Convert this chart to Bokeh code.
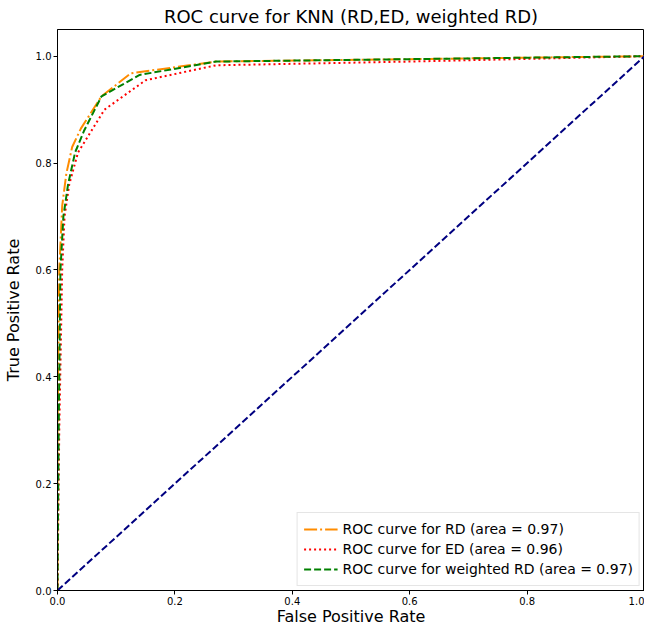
from bokeh.plotting import figure
from bokeh.embed import file_html
from bokeh.resources import INLINE
from bokeh.models import Range1d, FixedTicker, PrintfTickFormatter, Legend, LegendItem

# data
fpr_rd = [0.0, 0.0, 0.003, 0.008, 0.015, 0.025, 0.04, 0.075, 0.125, 0.27, 1.0]
tpr_rd = [0.0, 0.3, 0.6, 0.72, 0.78, 0.83, 0.865, 0.925, 0.968, 0.99, 1.0]

fpr_ed = [0.0, 0.003, 0.008, 0.012, 0.02, 0.035, 0.08, 0.15, 0.27, 0.6, 1.0]
tpr_ed = [0.0, 0.3, 0.6, 0.7, 0.76, 0.82, 0.9, 0.955, 0.983, 0.99, 1.0]

fpr_w = [0.0, 0.002, 0.005, 0.01, 0.018, 0.03, 0.045, 0.075, 0.14, 0.27, 1.0]
tpr_w = [0.0, 0.3, 0.6, 0.7, 0.76, 0.82, 0.86, 0.925, 0.965, 0.99, 1.0]

diag_x = [0.0, 1.0]
diag_y = [0.0, 1.0]

labels = ["ROC curve for RD (area = 0.97)",
          "ROC curve for ED (area = 0.96)",
          "ROC curve for weighted RD (area = 0.97)"]
ticks = [0.0, 0.2, 0.4, 0.6, 0.8, 1.0]

FONT = "DejaVu Sans"

p = figure(width=644, height=628, output_backend="svg", toolbar_location=None,
           x_range=Range1d(0, 1.0), y_range=Range1d(0, 1.05),
           title="ROC curve for KNN (RD,ED, weighted RD)",
           min_border_left=51, min_border_right=0, min_border_top=0, min_border_bottom=0)

p.title.align = "center"
p.title.text_font = FONT
p.title.text_font_size = "18px"
p.title.text_font_style = "normal"
p.title.text_color = "#000000"
p.title.standoff = 6

p.xgrid.visible = False
p.ygrid.visible = False
p.outline_line_color = "#000000"
p.outline_line_width = 1

for ax, lab in ((p.xaxis[0], "False Positive Rate"), (p.yaxis[0], "True Positive Rate")):
    ax.ticker = FixedTicker(ticks=ticks)
    ax.formatter = PrintfTickFormatter(format="%.1f")
    ax.axis_label = lab
    ax.axis_label_text_font = FONT
    ax.axis_label_text_font_size = "16px"
    ax.axis_label_text_font_style = "normal"
    ax.axis_label_text_color = "#000000"
    ax.major_label_text_font = FONT
    ax.major_label_text_font_size = "10px"
    ax.major_label_text_color = "#000000"
    ax.minor_tick_line_color = None
    ax.major_tick_out = 4
    ax.major_tick_in = 0
    ax.axis_line_color = "#000000"
    ax.major_tick_line_color = "#000000"
    ax.major_label_standoff = 2

p.xaxis[0].axis_label_standoff = -1
p.yaxis[0].axis_label_standoff = 10

r1 = p.line(fpr_rd, tpr_rd, line_color="darkorange", line_width=2, line_dash="13 3 2 3")
r2 = p.line(fpr_ed, tpr_ed, line_color="red", line_width=2, line_dash="2 3")
r3 = p.line(fpr_w, tpr_w, line_color="green", line_width=2, line_dash="7 3")
p.line(diag_x, diag_y, line_color="navy", line_width=2, line_dash="7 3")

legend = Legend(items=[LegendItem(label=labels[0], renderers=[r1]),
                       LegendItem(label=labels[1], renderers=[r2]),
                       LegendItem(label=labels[2], renderers=[r3])],
                location="bottom_right")
legend.label_text_font = FONT
legend.label_text_font_size = "14px"
legend.label_text_color = "#000000"
legend.border_line_color = "#cccccc"
legend.border_line_width = 1
legend.background_fill_alpha = 0.8
legend.glyph_width = 34
legend.spacing = 0
legend.padding = 6
legend.margin = 4
legend.label_height = 20
legend.glyph_height = 20
p.add_layout(legend)

open("out.html", "w").write(file_html(p, INLINE))
